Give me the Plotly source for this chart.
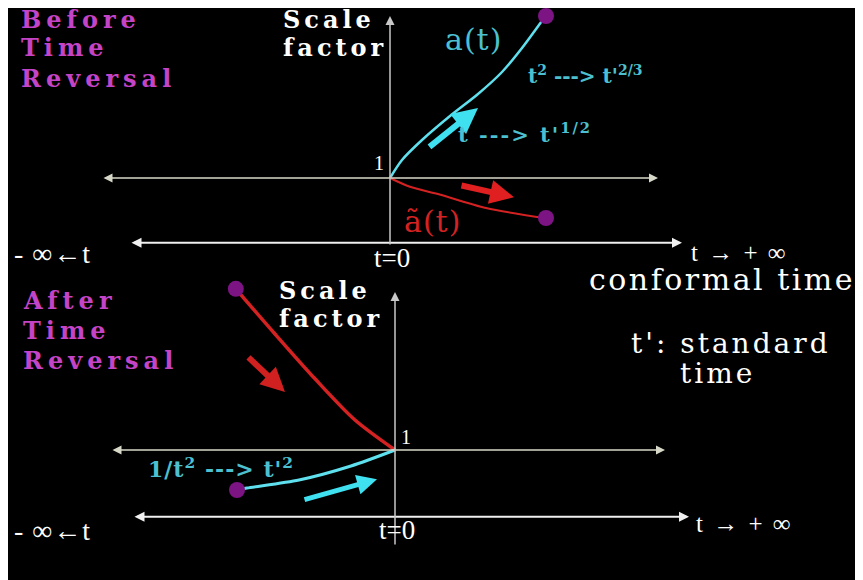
import plotly.graph_objects as go

# page body has an 8px margin, so the figure is a bit smaller than the window
OFF = 8
W, H = 863 - OFF, 580 - OFF

# --- data: scale factor vs conformal time (1 unit = one grid step) ---
# before time reversal
top_a_t = [0, 0.3, 0.8, 1.5, 2.2, 2.8, 3.3, 3.85]
top_a_val = [1, 1.45, 1.95, 2.55, 3.1, 3.65, 4.25, 5.0]
top_atilde_t = [0, 0.5, 1.2, 2.4, 3.85]
top_atilde_val = [1, 0.78, 0.6, 0.25, 0.0]
top_dot_t = [3.9, 3.9]
top_dot_val = [5.05, 0.0]

# after time reversal
bot_red_t = [-3.98, -3.0, -2.0, -1.0, 0]
bot_red_val = [5.03, 3.9, 2.78, 1.75, 1]
bot_cyan_t = [-3.95, -3.7, -2.4, -1.1, 0]
bot_cyan_val = [0, 0.05, 0.25, 0.6, 1]
bot_dot_t = [-3.98, -3.95]
bot_dot_val = [5.03, 0]

CYAN = '#5fe0ee'
CYAN_TXT = '#4cc0d0'
RED = '#d42222'
DOT = '#7c1484'
MAG = '#c444c8'
SERIF = 'Liberation Serif'
WIDE = 'DejaVu Serif'


def P(x, y):
    # page pixel -> paper coords
    return (x - OFF) / W, 1 - (y - OFF) / H


fig = go.Figure()

line = dict(shape='spline', smoothing=0.8)
fig.add_trace(go.Scatter(x=top_a_t, y=top_a_val, mode='lines',
                         line=dict(color=CYAN, width=2.5, **line), xaxis='x', yaxis='y'))
fig.add_trace(go.Scatter(x=top_atilde_t, y=top_atilde_val, mode='lines',
                         line=dict(color=RED, width=2, **line), xaxis='x', yaxis='y'))
fig.add_trace(go.Scatter(x=top_dot_t, y=top_dot_val, mode='markers',
                         marker=dict(color=DOT, size=16), xaxis='x', yaxis='y'))
fig.add_trace(go.Scatter(x=bot_red_t, y=bot_red_val, mode='lines',
                         line=dict(color=RED, width=3.5, **line), xaxis='x2', yaxis='y2'))
fig.add_trace(go.Scatter(x=bot_cyan_t, y=bot_cyan_val, mode='lines',
                         line=dict(color=CYAN, width=3, **line), xaxis='x2', yaxis='y2'))
fig.add_trace(go.Scatter(x=bot_dot_t, y=bot_dot_val, mode='markers',
                         marker=dict(color=DOT, size=16), xaxis='x2', yaxis='y2'))

ann = []


def arrow(xr, yr, x0, y0, x1, y1, color, width, side='end', size=1.0, head=2):
    ann.append(dict(xref=xr, yref=yr, axref=xr, ayref=yr, x=x1, y=y1, ax=x0, ay=y0,
                    showarrow=True, arrowcolor=color, arrowwidth=width, arrowhead=head,
                    startarrowhead=head, arrowside=side, arrowsize=size, startarrowsize=size,
                    text=''))


# axes, top panel
arrow('x', 'y', -7.2, 1, 6.7, 1, '#d8d8c8', 1.5, 'end+start', 1.2)
arrow('x', 'y', -6.5, -0.62, 7.3, -0.62, '#f0f0f0', 2, 'end+start', 1.0)
arrow('x', 'y', 0, -0.7, 0, 5.05, '#c8c8c8', 1.5, 'end', 1.2)
# axes, bottom panel
arrow('x2', 'y2', -7.1, 1, 6.75, 1, '#d8d8c8', 1.5, 'end+start', 1.2)
arrow('x2', 'y2', -6.55, -0.67, 7.35, -0.67, '#f0f0f0', 2, 'end+start', 1.0)
arrow('x2', 'y2', 0, -1.4, 0, 4.95, '#c8c8c8', 1.5, 'end', 1.2)
# direction arrows
arrow('x', 'y', 0.95, 1.75, 2.2, 2.75, '#3fe0f0', 6, 'end', 0.85)
arrow('x', 'y', 1.75, 0.82, 3.1, 0.52, '#e02020', 6, 'end', 0.8)
arrow('x2', 'y2', -2.3, -0.25, -0.45, 0.27, '#3fe0f0', 5, 'end', 0.8)
arrow('x2', 'y2', -3.7, 3.35, -2.75, 2.45, '#d02020', 6, 'end', 0.8)


def label(text, x, y, size, color='white', family=SERIF, anchor='left', sp=0, bold=False):
    px, py = P(x, y)
    if sp:
        text = '<span style="letter-spacing:%gpx">%s</span>' % (sp, text)
    if bold:
        text = '<b>' + text + '</b>'
    ann.append(dict(xref='paper', yref='paper', x=px, y=py, text=text, showarrow=False,
                    xanchor=anchor, yanchor='middle',
                    font=dict(size=size, color=color, family=family)))


for txt, y in [('Before', 19), ('Time', 48), ('Reversal', 78)]:
    label(txt, 19, y, 24, MAG, WIDE, sp=5, bold=True)
for txt, y in [('After', 300), ('Time', 330), ('Reversal', 360)]:
    label(txt, 21, y, 24, MAG, WIDE, sp=5, bold=True)
for txt, y in [('Scale', 19), ('factor', 48)]:
    label(txt, 281, y, 24, 'white', WIDE, sp=4, bold=True)
for txt, y in [('Scale', 290), ('factor', 318)]:
    label(txt, 277, y, 24, 'white', WIDE, sp=4, bold=True)

label('a(t)', 473, 40, 30, CYAN_TXT, WIDE, 'center', sp=1)
label("t<sup>2</sup> ---&gt; t'<sup>2/3</sup>", 526, 75, 20, CYAN_TXT, WIDE, bold=True)
label("t ---&gt; t'<sup>1/2</sup>", 456, 133, 21, CYAN_TXT, WIDE, sp=2, bold=True)
label('\u00e3(t)', 402, 221, 30, RED, WIDE, sp=1)
label('1', 379, 163, 20, 'white', SERIF, 'center')
label('t=0', 392, 258, 27, 'white', SERIF, 'center')
label('- \u221e\u2190t', 12, 254, 28, 'white', SERIF, sp=1)
label('t \u2192 + \u221e', 689, 252, 25, 'white', SERIF, sp=2)
label('conformal time', 587, 279, 30, 'white', WIDE, sp=2.5)
label("t': standard", 629, 343, 28, 'white', WIDE, sp=3)
label('time', 717, 373, 28, 'white', WIDE, 'center', sp=3)

label('1', 406, 437, 20, 'white', SERIF, 'center')
label("1/t<sup>2</sup> ---&gt; t'<sup>2</sup>", 146, 468, 22, CYAN_TXT, WIDE, sp=1, bold=True)
label('t=0', 397, 530, 27, 'white', SERIF, 'center')
label('- \u221e\u2190t', 12, 530, 28, 'white', SERIF, sp=1)
label('t \u2192 + \u221e', 694, 523, 25, 'white', SERIF, sp=2)

ax_style = dict(visible=False, fixedrange=True, domain=[0, 1])
ox1, oy1 = 390 - OFF, 178 - OFF   # origin of top panel in figure px
ox2, oy2 = 395 - OFF, 450 - OFF   # origin of bottom panel
fig.update_layout(
    width=W, height=H,
    margin=dict(l=0, r=0, t=0, b=0),
    paper_bgcolor='white',
    plot_bgcolor='rgba(0,0,0,0)',
    showlegend=False,
    xaxis=dict(range=[-ox1 / 40, (W - ox1) / 40], **ax_style),
    yaxis=dict(range=[1 - (H - oy1) / 40, 1 + oy1 / 40], **ax_style),
    xaxis2=dict(range=[-ox2 / 40, (W - ox2) / 40], anchor='y2', **ax_style),
    yaxis2=dict(range=[1 - (H - oy2) / 40, 1 + oy2 / 40], anchor='x2', **ax_style),
    shapes=[dict(type='rect', xref='paper', yref='paper', x0=0, x1=1, y0=0, y1=1,
                 fillcolor='black', line_width=0, layer='below')],
    annotations=ann,
)

fig.write_html('out.html')
